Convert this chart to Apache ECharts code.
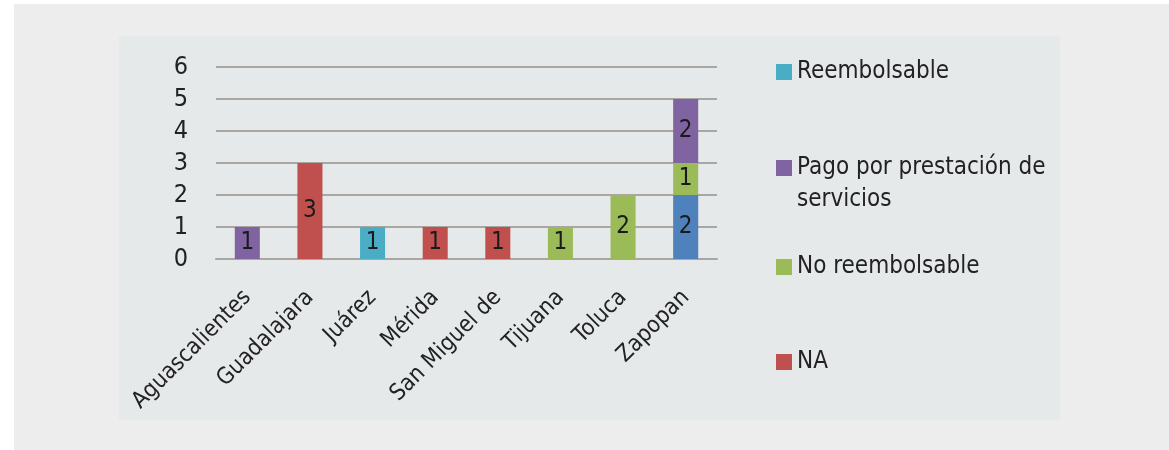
<!DOCTYPE html>
<html>
<head>
<meta charset="utf-8">
<script src="https://cdn.jsdelivr.net/npm/echarts@6/dist/echarts.min.js"></script>
<style>
  html, body { margin: 0; padding: 0; background: #ffffff; }
  #wrap { position: relative; width: 1169px; height: 450px; overflow: hidden; }
  #outer { position: absolute; left: 14px; top: 4px; right: 0; bottom: 0; background: #ededed; }
  #panel { position: absolute; left: 119px; top: 36px; width: 941px; height: 384px; background: #e6e9ea; }
  #chart { position: absolute; left: 0; top: 0; width: 1169px; height: 450px; }
</style>
</head>
<body>
<div id="wrap">
  <div id="outer"></div>
  <div id="panel"></div>
  <div id="chart"></div>
</div>
<script>
const categories = ['Aguascalientes', 'Guadalajara', 'Juárez', 'Mérida', 'San Miguel de', 'Tijuana', 'Toluca', 'Zapopan'];
const serieAzul      = [null, null, null, null, null, null, null, 2];
const reembolsable   = [null, null, 1, null, null, null, null, null];
const noReembolsable = [null, null, null, null, null, 1, 2, 1];
const pagoServicios  = [1, null, null, null, null, null, null, 2];
const na             = [null, 3, null, 1, 1, null, null, null];
const yTicks = [0, 1, 2, 3, 4, 5, 6];

const FONT = '"Liberation Sans Narrow", "DejaVu Sans Condensed", sans-serif';
const TXT = '#222222';

function bar(name, data, color) {
  return {
    name: name, type: 'bar', stack: 'total', data: data, barWidth: '40%',
    itemStyle: { color: color },
    label: { show: true, position: 'inside', color: '#1a1a1a', fontSize: 24, fontFamily: FONT,
             formatter: p => p.value == null ? '' : String(p.value) }
  };
}

function legendItem(name, top, text, lineHeight) {
  return {
    data: [name], orient: 'vertical', left: 776, top: top, padding: 0,
    itemWidth: 16, itemHeight: 16, itemGap: 0, icon: 'rect', selectedMode: false,
    formatter: text ? () => text : undefined,
    textStyle: { fontFamily: FONT, fontSize: 24, color: TXT, lineHeight: lineHeight || 26 }
  };
}

const chart = echarts.init(document.getElementById('chart'), null, { renderer: 'canvas' });
chart.setOption({
  backgroundColor: 'transparent',
  animation: false,
  grid: { left: 216, right: 452, top: 67, bottom: 191, containLabel: false },
  legend: [
    legendItem('Reembolsable', 59),
    legendItem('Pago por prestación de servicios', 120, '\nPago por prestación de\nservicios', 32),
    legendItem('No reembolsable', 254),
    legendItem('NA', 349)
  ],
  xAxis: {
    type: 'category', data: categories,
    axisLine: { show: true, lineStyle: { color: '#aaa6a2', width: 2 } },
    axisTick: { show: false },
    axisLabel: { rotate: 45, margin: 35, interval: 0, fontFamily: FONT, fontSize: 23, color: TXT }
  },
  yAxis: {
    type: 'value', min: yTicks[0], max: yTicks[yTicks.length - 1], interval: 1,
    axisLine: { show: false }, axisTick: { show: false },
    splitLine: { show: true, lineStyle: { color: '#aaa6a2', width: 2 } },
    axisLabel: { margin: 28, fontFamily: FONT, fontSize: 25, color: TXT }
  },
  series: [
    bar('Serie 5', serieAzul, '#4f81bd'),
    bar('Reembolsable', reembolsable, '#4bacc6'),
    bar('No reembolsable', noReembolsable, '#9bbb59'),
    bar('Pago por prestación de servicios', pagoServicios, '#8064a2'),
    bar('NA', na, '#c0504d')
  ]
});
</script>
</body>
</html>
